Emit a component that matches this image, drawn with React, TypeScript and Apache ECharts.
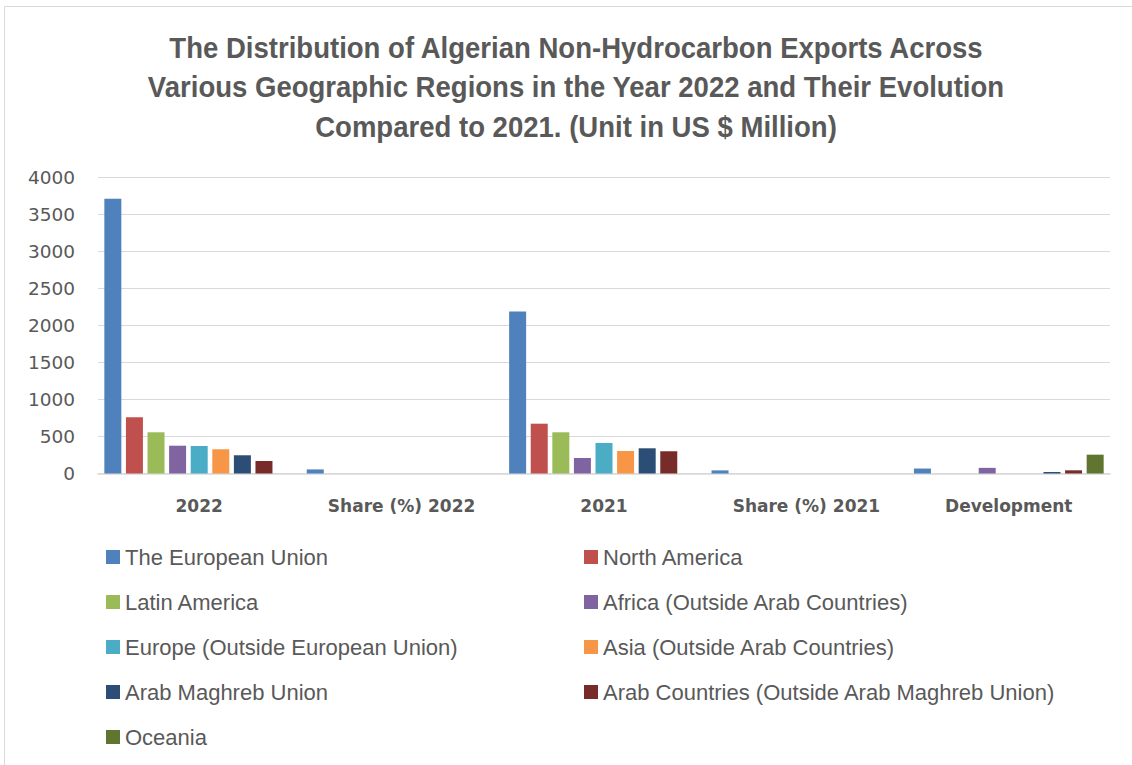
import React, { useEffect, useRef } from "react";
import * as echarts from "echarts";

const categories = ["2022", "Share (%) 2022", "2021", "Share (%) 2021", "Development"];
const seriesNames = [
  "The European Union",
  "North America",
  "Latin America",
  "Africa (Outside Arab Countries)",
  "Europe (Outside European Union)",
  "Asia (Outside Arab Countries)",
  "Arab Maghreb Union",
  "Arab Countries (Outside Arab Maghreb Union)",
  "Oceania",
];
const europeanUnion = [3705, 55, 2185, 42, 67];
const northAmerica = [760, 0, 672, 0, 0];
const latinAmerica = [556, 0, 556, 0, 0];
const africa = [375, 0, 209, 0, 76];
const europeOutsideEU = [371, 0, 412, 0, 0];
const asia = [327, 0, 304, 0, 0];
const arabMaghreb = [246, 0, 340, 0, 20];
const arabCountries = [169, 0, 300, 0, 43];
const oceania = [0, 0, 0, 0, 254];
const seriesValues = [
  europeanUnion, northAmerica, latinAmerica, africa, europeOutsideEU,
  asia, arabMaghreb, arabCountries, oceania,
];
const colors = [
  "#4F81BD", "#C0504D", "#9BBB59", "#8064A2", "#4BACC6",
  "#F79646", "#2C4D75", "#772C2A", "#5F7530",
];
const yTicks = { min: 0, max: 4000, interval: 500 };

const titleText =
  "The Distribution of Algerian Non-Hydrocarbon Exports Across\nVarious Geographic Regions in the Year 2022 and Their Evolution\nCompared to 2021. (Unit in US $ Million)";

export default function App() {
  const ref = useRef<HTMLDivElement>(null);
  useEffect(() => {
    document.body.style.margin = "0";
    const chart = echarts.init(ref.current!, null, { renderer: "svg" });
    const legendText = {
      fontFamily: "Liberation Sans",
      fontSize: 22,
      color: "#595959",
      lineHeight: 22,
    };
    chart.setOption({
      animation: false,
      backgroundColor: "#ffffff",
      graphic: [
        {
          type: "rect",
          shape: { x: 4.5, y: 6.5, width: 1140, height: 800 },
          style: { fill: "none", stroke: "#D9D9D9", lineWidth: 1 },
          silent: true,
        },
        {
          type: "text",
          x: 576,
          y: 28,
          scaleX: 0.95,
          silent: true,
          style: {
            text: titleText,
            fontFamily: "Liberation Sans",
            fontWeight: "bold",
            fontSize: 29,
            lineHeight: 39.5,
            fill: "#595959",
            align: "center",
            verticalAlign: "top",
          },
        },
      ],
      legend: [
        {
          orient: "vertical",
          left: 106,
          top: 546,
          padding: 0,
          itemWidth: 14,
          itemHeight: 14,
          itemGap: 23,
          icon: "rect",
          textStyle: legendText,
          data: [seriesNames[0], seriesNames[2], seriesNames[4], seriesNames[6], seriesNames[8]],
        },
        {
          orient: "vertical",
          left: 584,
          top: 546,
          padding: 0,
          itemWidth: 14,
          itemHeight: 14,
          itemGap: 23,
          icon: "rect",
          textStyle: legendText,
          data: [seriesNames[1], seriesNames[3], seriesNames[5], seriesNames[7]],
        },
      ],
      grid: { left: 98, right: 22, top: 177, bottom: 291.5, containLabel: false },
      xAxis: {
        type: "category",
        data: categories,
        axisLine: { lineStyle: { color: "#D9D9D9", width: 1.5 } },
        axisTick: { show: false },
        axisLabel: {
          margin: 24,
          fontFamily: "DejaVu Sans",
          fontWeight: "bold",
          fontSize: 17,
          color: "#595959",
        },
      },
      yAxis: {
        type: "value",
        min: yTicks.min,
        max: yTicks.max,
        interval: yTicks.interval,
        axisLine: { show: false },
        axisTick: { show: false },
        splitLine: { lineStyle: { color: "#D9D9D9", width: 1 } },
        axisLabel: {
          margin: 23,
          fontFamily: "DejaVu Sans",
          fontSize: 18.5,
          color: "#595959",
          formatter: (v: number) => String(v),
        },
      },
      series: seriesNames.map((name, i) => ({
        name,
        type: "bar",
        data: seriesValues[i],
        barWidth: 17,
        barGap: "27%",
        itemStyle: { color: colors[i] },
      })),
    });
    return () => chart.dispose();
  }, []);
  return <div ref={ref} style={{ width: 1132, height: 765 }} />;
}
